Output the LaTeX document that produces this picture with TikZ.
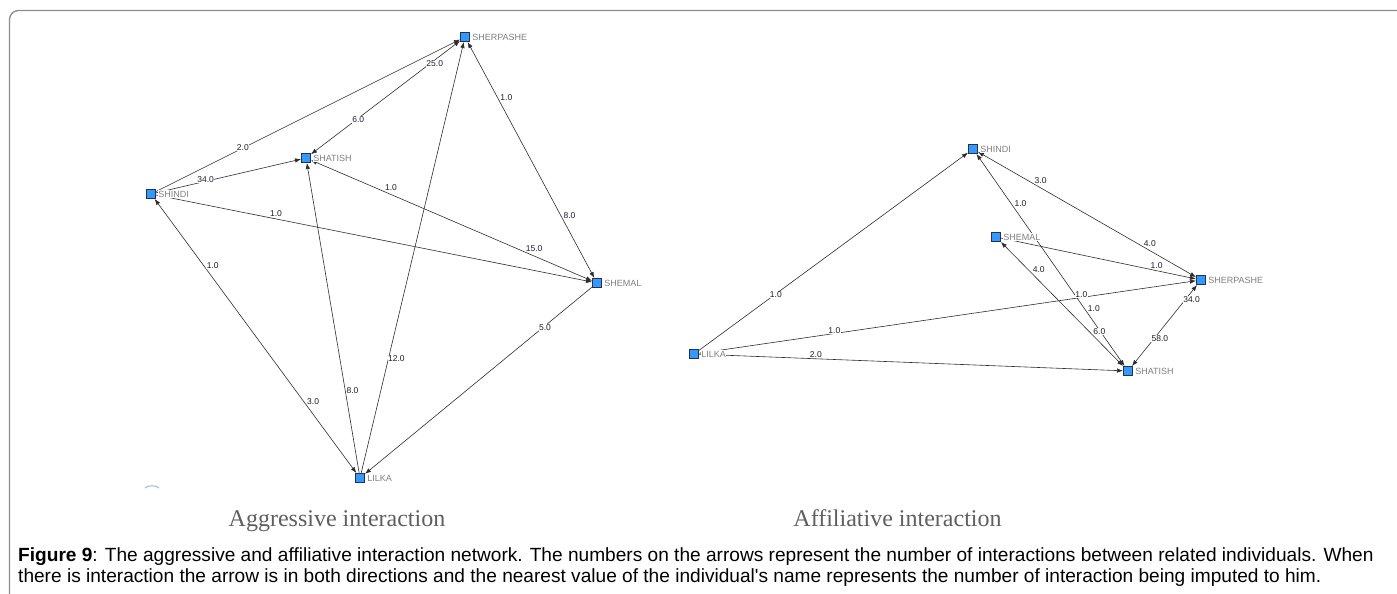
\documentclass[tikz,border=0pt]{standalone}
\usepackage{fontspec}
\setmainfont{Liberation Sans}
\newfontfamily\serifttl{Liberation Serif}
\usetikzlibrary{arrows.meta}
\pgfdeclarelayer{edges}
\pgfsetlayers{edges,main}
\definecolor{nodeblue}{RGB}{51,153,255}
\definecolor{nodeedge}{RGB}{40,50,70}
\definecolor{namegray}{RGB}{128,128,128}
\definecolor{linegray}{RGB}{45,45,45}
\definecolor{numcol}{RGB}{30,30,45}
\definecolor{framegray}{RGB}{140,140,140}
\definecolor{titlegray}{RGB}{95,95,95}
\definecolor{arcblue}{RGB}{175,195,215}
\begin{document}
\begin{tikzpicture}[x=1pt,y=-1pt,
  label distance=1.5pt,
  actor/.style={rectangle, draw=nodeedge, fill=nodeblue, line width=0.8pt,
    minimum size=9.2pt, inner sep=0pt},
  namelbl/.style={font=\fontsize{9}{10}\selectfont, text=namegray, fill=white, inner sep=0.6pt},
  link/.style={draw=linegray, line width=0.6pt},
  arr/.style={-{Latex[length=6pt,width=4.5pt]}},
  both/.style={{Latex[length=6pt,width=4.5pt]}-{Latex[length=6pt,width=4.5pt]}},
  num/.style={font=\fontsize{8.5}{9}\selectfont, text=numcol, fill=white, inner sep=0.4pt, anchor=south west},
  ttl/.style={anchor=base, font=\serifttl\fontsize{24}{28}\selectfont, text=titlegray},
  capline/.style={anchor=base west, inner sep=0pt, font=\fontsize{19.1}{22}\selectfont}
]
\useasboundingbox (0,0) rectangle (1397,594);
% frame
\draw[framegray, line width=1.3pt, rounded corners=9pt] (9.5,600) -- (9.5,10.5) -- (1400,10.5);

% ---------- Aggressive network ----------
\node[actor, label={[namelbl]east:SHERPASHE}] (he) at (465,37) {};
\node[actor, label={[namelbl]east:SHATISH}] (ti) at (306,158) {};
\node[actor, label={[namelbl]east:SHINDI}] (in) at (151,194) {};
\node[actor, label={[namelbl]east:SHEMAL}] (em) at (597,283) {};
\node[actor, label={[namelbl]east:LILKA}] (li) at (360,478) {};

\begin{pgfonlayer}{edges}
\draw[link,arr] (in) -- node[num,pos=0.264]{2.0} (he);
\draw[link,both] (ti) -- node[num,pos=0.273]{6.0} node[num,pos=0.770]{25.0} (he);
\draw[link,arr] (in) -- node[num,pos=0.280]{34.0} (ti);
\draw[link,arr] (in) -- node[num,pos=0.260]{1.0} (em);
\draw[link,both] (ti) -- node[num,pos=0.261]{1.0} node[num,pos=0.762]{15.0} (em);
\draw[link,both] (he) -- node[num,pos=0.253]{1.0} node[num,pos=0.752]{8.0} (em);
\draw[link,both] (in) -- node[num,pos=0.255]{1.0} node[num,pos=0.753]{3.0} (li);
\draw[link,arr] (li) -- node[num,pos=0.253]{8.0} (ti);
\draw[link,arr] (li) -- node[num,pos=0.256]{12.0} (he);
\draw[link,arr] (em) -- node[num,pos=0.236]{5.0} (li);
\end{pgfonlayer}

% small arc at lower left
\draw[arcblue, line width=1.2pt] (145,488) .. controls (148,485) and (156,485) .. (159,488);

% ---------- Affiliative network ----------
\node[actor, label={[namelbl]east:SHINDI}] (in2) at (973,149) {};
\node[actor, label={[namelbl]east:SHEMAL}] (em2) at (996,237) {};
\node[actor, label={[namelbl]east:SHERPASHE}] (he2) at (1201,280) {};
\node[actor, label={[namelbl]east:SHATISH}] (ti2) at (1128,371) {};
\node[actor, label={[namelbl]east:LILKA}] (li2) at (694,354) {};

\begin{pgfonlayer}{edges}
\draw[link,arr] (li2) -- node[num,pos=0.261]{1.0} (in2);
\draw[link,both] (in2) -- node[num,pos=0.257]{3.0} node[num,pos=0.758]{4.0} (he2);
\draw[link,both] (in2) -- node[num,pos=0.253]{1.0} node[num,pos=0.748]{1.0} (ti2);
\draw[link,both] (em2) -- node[num,pos=0.256]{4.0} node[num,pos=0.752]{6.0} (ti2);
\draw[link,arr] (em2) -- node[num,pos=0.764]{1.0} (he2);
\draw[link,both] (li2) -- node[num,pos=0.259]{1.0} node[num,pos=0.756]{1.0} (he2);
\draw[link,arr] (li2) -- node[num,pos=0.260]{2.0} (ti2);
\draw[link,both] (ti2) -- node[num,pos=0.291]{58.0} node[num,pos=0.778]{34.0} (he2);
\end{pgfonlayer}

% ---------- titles and caption ----------
\node[ttl] (ttl1) at (337,526) {Aggressive interaction};
\node[ttl] (ttl2) at (897.5,526) {Affiliative interaction};
\node[capline] (cap1) at (18,561) {\textbf{Figure 9}: The aggressive and affiliative interaction network. The numbers on the arrows represent the number of interactions between related individuals. When};
\node[capline] (cap2) at (18,582) {there is interaction the arrow is in both directions and the nearest value of the individual\textquotesingle s name represents the number of interaction being imputed to him.};
\end{tikzpicture}
\end{document}
